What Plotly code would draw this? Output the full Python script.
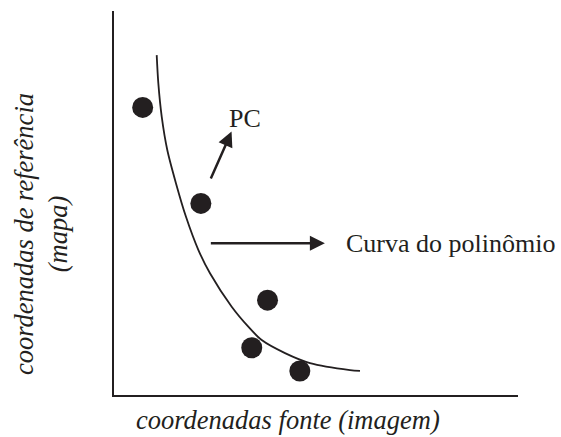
import plotly.graph_objects as go

# Control points (PC) in map/image coordinate units
pc_x = [7.1, 21.5, 38.0, 34.1, 46.0]
pc_y = [74.9, 49.9, 24.7, 12.3, 6.25]

# Fitted polynomial curve, sampled at nodes along its length
curve_x = [10.57, 10.97, 11.81, 13.19, 15.35, 17.82, 20.87, 23.76, 29.13,
           33.24, 36.56, 42.33, 48.51, 58.42, 60.89]
curve_y = [88.5, 81.2, 72.5, 63.8, 55.1, 46.4, 37.8, 31.7, 23.0,
           17.8, 14.3, 10.9, 8.3, 6.5, 6.3]

# Arrows: (tail x, tail y, head x, head y)
pc_arrow = [23.8, 56.0, 29.1, 68.6]
curve_arrow = [23.6, 39.5, 52.2, 39.5]

labels = ["PC", "Curva do polinômio"]
x_title = "coordenadas fonte (imagem)"
y_title = "coordenadas de referência<br>(mapa)"

INK = "#231f20"
FONT = "Liberation Serif"
FS = 26
FS_TITLE = 26.5

fig = go.Figure()

fig.add_trace(go.Scatter(
    x=curve_x, y=curve_y, mode="lines",
    line=dict(color=INK, width=1.8, shape="spline", smoothing=0.8),
    hoverinfo="skip", showlegend=False,
))
fig.add_trace(go.Scatter(
    x=pc_x, y=pc_y, mode="markers",
    marker=dict(size=21, color=INK, line=dict(width=0)),
    showlegend=False,
))

for a in (pc_arrow, curve_arrow):
    fig.add_annotation(
        x=a[2], y=a[3], ax=a[0], ay=a[1],
        xref="x", yref="y", axref="x", ayref="y",
        text="", showarrow=True,
        arrowhead=2, arrowsize=1.2, arrowwidth=2.5, arrowcolor=INK,
    )

fig.add_annotation(
    x=32.4, y=72.0, xref="x", yref="y", text=labels[0],
    showarrow=False, xanchor="center", yanchor="middle",
    font=dict(family=FONT, size=FS, color=INK),
)
fig.add_annotation(
    x=57.0, y=39.5, xref="x", yref="y", text=labels[1],
    showarrow=False, xanchor="left", yanchor="middle",
    font=dict(family=FONT, size=FS, color=INK),
)

fig.add_annotation(
    x=0.43, y=-0.066, xref="paper", yref="paper", text="<i>" + x_title + "</i>",
    showarrow=False, xanchor="center", yanchor="middle",
    font=dict(family=FONT, size=FS_TITLE, color=INK),
)
fig.add_annotation(
    x=-0.1807, y=0.419, xref="paper", yref="paper", text="<i>" + y_title + "</i>",
    showarrow=False, xanchor="center", yanchor="middle", textangle=-90,
    font=dict(family=FONT, size=FS_TITLE, color=INK),
)

axis_style = dict(
    showline=True, linecolor=INK, linewidth=2,
    showgrid=False, zeroline=False, showticklabels=False, ticks="",
    fixedrange=True,
)
fig.update_xaxes(range=[0, 100], **axis_style)
fig.update_yaxes(range=[0, 100], **axis_style)

fig.update_layout(
    width=561, height=437,
    margin=dict(l=114, r=43, t=11, b=42),
    paper_bgcolor="white", plot_bgcolor="white",
    showlegend=False,
)

fig.write_html("out.html")
